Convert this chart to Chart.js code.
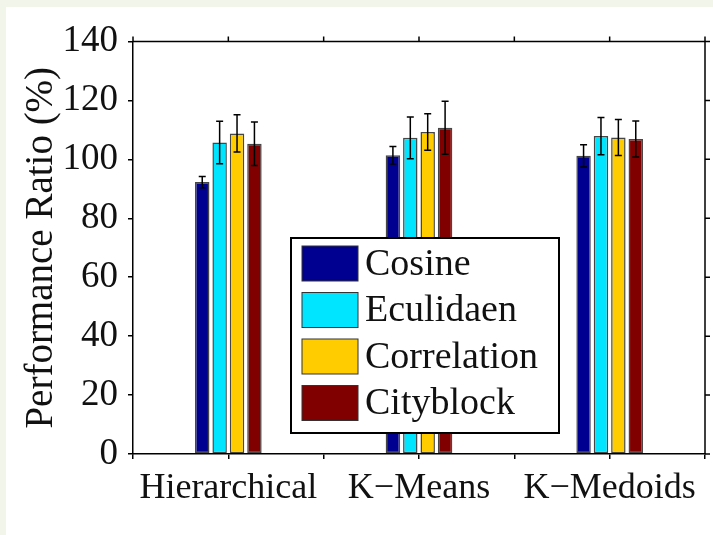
<!DOCTYPE html>
<html>
<head>
<meta charset="utf-8">
<script src="https://cdn.jsdelivr.net/npm/chart.js@4.4.1/dist/chart.umd.min.js"></script>
<style>
  body { margin: 0; background: #f2f5ea; }
  #wrap { position: absolute; left: 6px; top: 7px; width: 707px; height: 528px; background: #fff; }
</style>
</head>
<body>
<div id="wrap"><canvas id="chartCanvas" width="707" height="528"></canvas></div>
<script>
const categories = ["Hierarchical", "K\u2212Means", "K\u2212Medoids"];
const seriesNames = ["Cosine", "Eculidaen", "Correlation", "Cityblock"];
const seriesColors = ["#000090", "#00e5ff", "#ffcc00", "#800000"];

const cosine = [92.3, 101.4, 101.2];
const cosineErr = [1.9, 3.0, 3.8];
const euclidean = [105.7, 107.3, 107.9];
const euclideanErr = [7.2, 7.1, 6.3];
const correlation = [108.8, 109.3, 107.4];
const correlationErr = [6.3, 6.2, 6.1];
const cityblock = [105.3, 110.7, 106.9];
const cityblockErr = [7.4, 9.0, 6.1];

const yTicks = [0, 20, 40, 60, 80, 100, 120, 140];

const values = [cosine, euclidean, correlation, cityblock];
const errors = [cosineErr, euclideanErr, correlationErr, cityblockErr];

const serif = "'Liberation Serif', 'Times New Roman', serif";

// error bars drawn over the bars
const errorBars = {
  id: "errorBars",
  afterDatasetsDraw(chart) {
    const ctx = chart.ctx;
    const y = chart.scales.y;
    ctx.save();
    ctx.strokeStyle = "#000";
    ctx.lineWidth = 1.5;
    chart.data.datasets.forEach((ds, i) => {
      const meta = chart.getDatasetMeta(i);
      meta.data.forEach((bar, j) => {
        const v = values[i][j], e = errors[i][j];
        const top = y.getPixelForValue(v + e), bot = y.getPixelForValue(v - e);
        ctx.beginPath();
        ctx.moveTo(bar.x, top); ctx.lineTo(bar.x, bot);
        ctx.moveTo(bar.x - 3.5, top); ctx.lineTo(bar.x + 3.5, top);
        ctx.moveTo(bar.x - 3.5, bot); ctx.lineTo(bar.x + 3.5, bot);
        ctx.stroke();
      });
    });
    ctx.restore();
  }
};

// top/right frame with mirrored ticks, plus the boxed legend
const frameAndLegend = {
  id: "frameAndLegend",
  afterDraw(chart) {
    const ctx = chart.ctx;
    const a = chart.chartArea;
    const xs = chart.scales.x, ys = chart.scales.y;
    ctx.save();
    ctx.strokeStyle = "#000";
    ctx.lineWidth = 1.5;
    ctx.beginPath();
    ctx.moveTo(a.left, a.top); ctx.lineTo(a.right, a.top); ctx.lineTo(a.right, a.bottom);
    xs.ticks.forEach(t => {
      const px = xs.getPixelForValue(t.value);
      ctx.moveTo(px, a.top); ctx.lineTo(px, a.top - 5);
    });
    ys.ticks.forEach(t => {
      const py = ys.getPixelForValue(t.value);
      ctx.moveTo(a.right, py); ctx.lineTo(a.right + 5, py);
    });
    ctx.stroke();

    // legend
    const lx = 285, ly = 231, lw = 268, lh = 195;
    ctx.fillStyle = "#fff";
    ctx.fillRect(lx, ly, lw, lh);
    ctx.lineWidth = 2;
    ctx.strokeRect(lx, ly, lw, lh);
    ctx.font = "38px " + serif;
    ctx.textBaseline = "middle";
    ctx.textAlign = "left";
    seriesNames.forEach((name, i) => {
      const sy = 239 + i * 46.5;
      ctx.fillStyle = seriesColors[i];
      ctx.fillRect(296, sy, 56, 35);
      ctx.lineWidth = 1;
      ctx.strokeStyle = "#333";
      ctx.strokeRect(296, sy, 56, 35);
      ctx.fillStyle = "#111";
      ctx.fillText(name, 359, sy + 19);
    });
    ctx.restore();
  }
};

const ctx = document.getElementById("chartCanvas").getContext("2d");
new Chart(ctx, {
  type: "bar",
  data: {
    datasets: seriesNames.map((name, i) => ({
      label: name,
      data: values[i].map((v, j) => ({ x: j + 1, y: v })),
      backgroundColor: seriesColors[i],
      borderColor: "rgba(50,50,50,0.9)",
      borderWidth: 1.5,
      borderSkipped: false,
      categoryPercentage: 0.73,
      barPercentage: 0.83
    }))
  },
  options: {
    responsive: false,
    animation: false,
    layout: { padding: { top: 34.5, right: 5, left: 0, bottom: 0 } },
    plugins: { legend: { display: false }, tooltip: { enabled: false } },
    scales: {
      x: {
        type: "linear",
        min: 0.5,
        max: 3.5,
        offset: false,
        grid: { offset: false, drawOnChartArea: false, drawTicks: true, tickLength: 5, color: "#000", lineWidth: 1.5 },
        border: { display: true, color: "#000", width: 1.5 },
        ticks: {
          stepSize: 0.5,
          autoSkip: false,
          maxRotation: 0,
          padding: 8,
          color: "#111",
          font: { family: serif, size: 36 },
          callback: v => (Number.isInteger(v) ? categories[v - 1] : "")
        },
        afterFit: s => { s.height = 81; }
      },
      y: {
        min: 0,
        max: 140,
        afterBuildTicks: s => { s.ticks = yTicks.map(v => ({ value: v })); },
        grid: { drawOnChartArea: false, drawTicks: true, tickLength: 5, color: "#000", lineWidth: 1.5 },
        border: { display: true, color: "#000", width: 1.5 },
        ticks: { padding: 10, color: "#111", font: { family: serif, size: 37 } },
        title: {
          display: true,
          text: "Performance Ratio (%)",
          color: "#111",
          font: { family: serif, size: 39 },
          padding: { top: 12, bottom: 0 }
        },
        afterFit: s => { s.width = 127; }
      }
    }
  },
  plugins: [errorBars, frameAndLegend]
});
</script>
</body>
</html>
